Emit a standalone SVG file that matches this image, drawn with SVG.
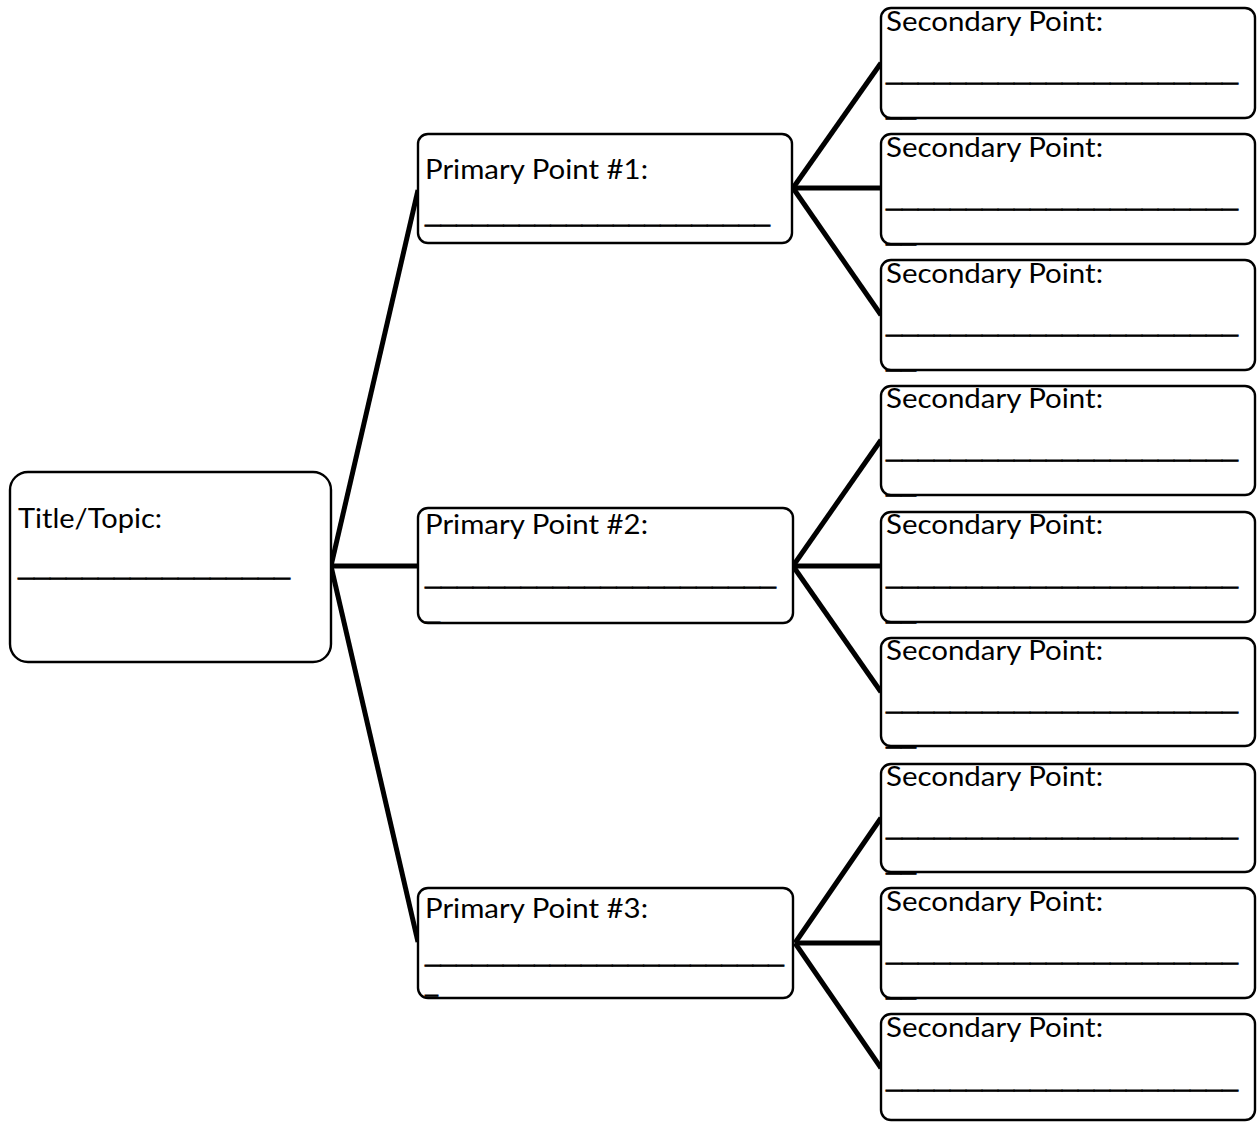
<svg xmlns="http://www.w3.org/2000/svg" width="1257" height="1122" viewBox="0 0 1257 1122">
<style>
.box{fill:#fff;stroke:#000;stroke-width:2.4}
.t{font-family:Lato,"Open Sans","Liberation Sans",sans-serif;font-size:26px;fill:#000}
.u{font-family:"Open Sans","Liberation Sans",sans-serif;font-size:24px;fill:#000;stroke:#000;stroke-width:0.7}
.c{stroke:#000;stroke-width:5;fill:none;stroke-linecap:butt}
</style>
<rect width="1257" height="1122" fill="#fff"/>
<g id="connectors">
<line class="c" x1="331" y1="566" x2="418" y2="190"/>
<line class="c" x1="331" y1="566" x2="418" y2="566"/>
<line class="c" x1="331" y1="566" x2="418" y2="942"/>
<line class="c" x1="793" y1="188" x2="881" y2="63"/>
<line class="c" x1="793" y1="188" x2="881" y2="188"/>
<line class="c" x1="793" y1="188" x2="881" y2="315"/>
<line class="c" x1="793" y1="566" x2="881" y2="440"/>
<line class="c" x1="793" y1="566" x2="881" y2="566"/>
<line class="c" x1="793" y1="566" x2="881" y2="692"/>
<line class="c" x1="795" y1="943" x2="881" y2="818"/>
<line class="c" x1="795" y1="943" x2="881" y2="943"/>
<line class="c" x1="795" y1="943" x2="881" y2="1068"/>
</g>
<g id="title">
<rect class="box" x="10" y="472" width="321" height="190" rx="18"/>
<text class="t" x="18" y="528" textLength="144" lengthAdjust="spacingAndGlyphs">Title/Topic:</text>
<text class="u" x="18" y="576" textLength="272" lengthAdjust="spacingAndGlyphs">_________________</text>
</g>
<g id="primary1">
<rect class="box" x="418" y="134" width="374" height="109" rx="10"/>
<text class="t" x="425" y="179" textLength="223" lengthAdjust="spacingAndGlyphs">Primary Point #1:</text>
<text class="u" x="425" y="223" textLength="345" lengthAdjust="spacingAndGlyphs">______________________</text>
</g>
<g id="primary2">
<rect class="box" x="418" y="508" width="375" height="115" rx="10"/>
<text class="t" x="425" y="534" textLength="223" lengthAdjust="spacingAndGlyphs">Primary Point #2:</text>
<text class="u" x="425" y="585" textLength="351" lengthAdjust="spacingAndGlyphs">______________________</text>
<text class="u" x="425" y="620" textLength="15" lengthAdjust="spacingAndGlyphs">_</text>
</g>
<g id="primary3">
<rect class="box" x="418" y="888" width="375" height="110" rx="10"/>
<text class="t" x="425" y="918" textLength="223" lengthAdjust="spacingAndGlyphs">Primary Point #3:</text>
<text class="u" x="425" y="963" textLength="359" lengthAdjust="spacingAndGlyphs">_______________________</text>
<text class="u" x="425" y="993" textLength="13" lengthAdjust="spacingAndGlyphs">_</text>
</g>
<g id="secondary1">
<rect class="box" x="881" y="8" width="374" height="110" rx="10"/>
<text class="t" x="886" y="31" textLength="217" lengthAdjust="spacingAndGlyphs">Secondary Point:</text>
<text class="u" x="886" y="81" textLength="352" lengthAdjust="spacingAndGlyphs">______________________</text>
<text class="u" x="886" y="116" textLength="30" lengthAdjust="spacingAndGlyphs">__</text>
</g>
<g id="secondary2">
<rect class="box" x="881" y="134" width="374" height="110" rx="10"/>
<text class="t" x="886" y="157" textLength="217" lengthAdjust="spacingAndGlyphs">Secondary Point:</text>
<text class="u" x="886" y="207" textLength="352" lengthAdjust="spacingAndGlyphs">______________________</text>
<text class="u" x="886" y="242" textLength="30" lengthAdjust="spacingAndGlyphs">__</text>
</g>
<g id="secondary3">
<rect class="box" x="881" y="260" width="374" height="110" rx="10"/>
<text class="t" x="886" y="283" textLength="217" lengthAdjust="spacingAndGlyphs">Secondary Point:</text>
<text class="u" x="886" y="333" textLength="352" lengthAdjust="spacingAndGlyphs">______________________</text>
<text class="u" x="886" y="368" textLength="30" lengthAdjust="spacingAndGlyphs">__</text>
</g>
<g id="secondary4">
<rect class="box" x="881" y="386" width="374" height="109" rx="10"/>
<text class="t" x="886" y="408" textLength="217" lengthAdjust="spacingAndGlyphs">Secondary Point:</text>
<text class="u" x="886" y="458" textLength="352" lengthAdjust="spacingAndGlyphs">______________________</text>
<text class="u" x="886" y="493" textLength="30" lengthAdjust="spacingAndGlyphs">__</text>
</g>
<g id="secondary5">
<rect class="box" x="881" y="512" width="374" height="110" rx="10"/>
<text class="t" x="886" y="534" textLength="217" lengthAdjust="spacingAndGlyphs">Secondary Point:</text>
<text class="u" x="886" y="585" textLength="352" lengthAdjust="spacingAndGlyphs">______________________</text>
<text class="u" x="886" y="620" textLength="30" lengthAdjust="spacingAndGlyphs">__</text>
</g>
<g id="secondary6">
<rect class="box" x="881" y="638" width="374" height="108" rx="10"/>
<text class="t" x="886" y="660" textLength="217" lengthAdjust="spacingAndGlyphs">Secondary Point:</text>
<text class="u" x="886" y="710" textLength="352" lengthAdjust="spacingAndGlyphs">______________________</text>
<text class="u" x="886" y="745" textLength="30" lengthAdjust="spacingAndGlyphs">__</text>
</g>
<g id="secondary7">
<rect class="box" x="881" y="764" width="374" height="108" rx="10"/>
<text class="t" x="886" y="786" textLength="217" lengthAdjust="spacingAndGlyphs">Secondary Point:</text>
<text class="u" x="886" y="836" textLength="352" lengthAdjust="spacingAndGlyphs">______________________</text>
<text class="u" x="886" y="871" textLength="30" lengthAdjust="spacingAndGlyphs">__</text>
</g>
<g id="secondary8">
<rect class="box" x="881" y="888" width="374" height="110" rx="10"/>
<text class="t" x="886" y="911" textLength="217" lengthAdjust="spacingAndGlyphs">Secondary Point:</text>
<text class="u" x="886" y="961" textLength="352" lengthAdjust="spacingAndGlyphs">______________________</text>
<text class="u" x="886" y="996" textLength="30" lengthAdjust="spacingAndGlyphs">__</text>
</g>
<g id="secondary9">
<rect class="box" x="881" y="1014" width="374" height="106" rx="10"/>
<text class="t" x="886" y="1037" textLength="217" lengthAdjust="spacingAndGlyphs">Secondary Point:</text>
<text class="u" x="886" y="1088" textLength="352" lengthAdjust="spacingAndGlyphs">______________________</text>
</g>
</svg>
